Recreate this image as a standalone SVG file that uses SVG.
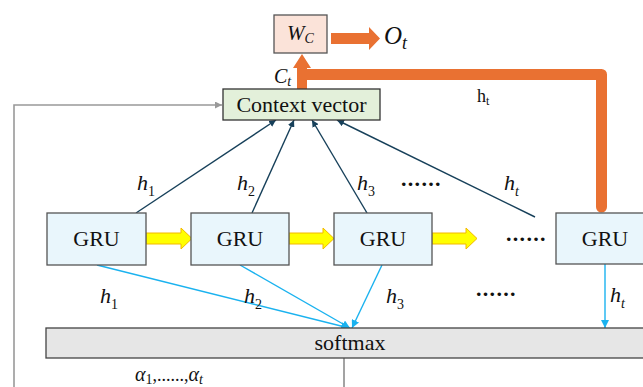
<svg xmlns="http://www.w3.org/2000/svg" width="643" height="387" viewBox="0 0 643 387" font-family="'Liberation Serif', 'Times New Roman', 'DejaVu Serif', serif">
<style>
text{font-family:"Liberation Serif","Times New Roman","DejaVu Serif",serif;fill:#111}
.n{font-size:22px}
.it{font-style:italic;font-size:22px}
.sub{font-size:14px;font-style:normal}
.subi{font-size:14px;font-style:italic}
.dots{font-size:22px;font-weight:bold;letter-spacing:1.3px}
.gru{fill:#e9f6fc;stroke:#555;stroke-width:1.3}
.dk{stroke:#17405a;stroke-width:1.4;fill:none;marker-end:url(#ad)}
.bl{stroke:#1ab2ef;stroke-width:1.4;fill:none;marker-end:url(#ab)}
.yl{fill:#ffff00;stroke:#f2b800;stroke-width:1}
.or{fill:#e97132}
</style>
<defs>
<marker id="ad" viewBox="0 0 10 10" refX="10" refY="5" markerWidth="7" markerHeight="7" markerUnits="userSpaceOnUse" orient="auto"><path d="M0,0 L10,5 L0,10 z" fill="#17405a"/></marker>
<marker id="ab" viewBox="0 0 10 10" refX="10" refY="5" markerWidth="8" markerHeight="8" markerUnits="userSpaceOnUse" orient="auto"><path d="M0,0 L10,5 L0,10 z" fill="#1ab2ef"/></marker>
<marker id="ag" viewBox="0 0 10 10" refX="10" refY="5" markerWidth="7" markerHeight="7" markerUnits="userSpaceOnUse" orient="auto"><path d="M0,0 L10,5 L0,10 z" fill="#999"/></marker>
</defs>

<g id="connectors">
<path d="M14,387 V105 H222" stroke="#999" stroke-width="1.6" fill="none" marker-end="url(#ag)"/>
<line x1="344" y1="358" x2="344" y2="387" stroke="#666" stroke-width="1.2"/>
<line class="dk" x1="136" y1="213" x2="276" y2="120"/>
<line class="dk" x1="252" y1="213" x2="294" y2="120"/>
<line class="dk" x1="367" y1="213" x2="312" y2="120"/>
<line class="dk" x1="535" y1="217" x2="337" y2="120"/>
<line class="bl" x1="97" y1="265" x2="349" y2="328"/>
<line class="bl" x1="240" y1="265" x2="350" y2="328"/>
<line class="bl" x1="382" y1="265" x2="352" y2="328"/>
<line class="bl" x1="605" y1="264" x2="605" y2="328"/>
<polygon class="yl" points="146,233 181,233 181,228 192,238.5 181,249 181,244 146,244"/>
<polygon class="yl" points="289,233 323,233 323,228 334,238.5 323,249 323,244 289,244"/>
<polygon class="yl" points="432,233 466,233 466,228 477,238.5 466,249 466,244 432,244"/>
<path d="M303,74.5 H601.5 V207" stroke="#e97132" stroke-width="11" fill="none" stroke-linejoin="round" stroke-linecap="round"/>
<polygon class="or" points="297,89 297,68 293,68 302,54 311,68 307,68 307,89"/>
<polygon class="or" points="331,33 369,33 369,27 380,38.5 369,50 369,44 331,44"/>
</g>

<g id="wc">
<rect x="274" y="15" width="53" height="38" fill="#fbe3d9" stroke="#555" stroke-width="1.3"/>
<text class="it" x="287" y="40" style="font-size:21px">W<tspan class="subi" dy="3">C</tspan></text>
</g>
<g id="ot"><text class="it" x="384" y="44" style="font-size:25px">O<tspan class="subi" dy="5" style="font-size:18px">t</tspan></text></g>
<g id="ct"><text class="it" x="274" y="83" style="font-size:20px">C<tspan class="subi" dy="3">t</tspan></text></g>
<g id="ht-top"><text x="477" y="102" style="font-size:18px">h<tspan dy="3" style="font-size:12px">t</tspan></text></g>

<g id="context">
<rect x="223" y="89" width="157" height="31" fill="#e3f0da" stroke="#333" stroke-width="1.3"/>
<text class="n" x="301.5" y="112" text-anchor="middle">Context vector</text>
</g>

<g id="gru1"><rect class="gru" x="47" y="213" width="99" height="52"/><text class="n" x="96.5" y="246" text-anchor="middle">GRU</text></g>
<g id="gru2"><rect class="gru" x="191" y="213" width="98" height="52"/><text class="n" x="240" y="246" text-anchor="middle">GRU</text></g>
<g id="gru3"><rect class="gru" x="334" y="213" width="98" height="52"/><text class="n" x="383" y="246" text-anchor="middle">GRU</text></g>
<g id="gru4"><rect class="gru" x="556" y="213" width="100" height="51"/><text class="n" x="605" y="246" text-anchor="middle">GRU</text></g>

<g id="softmax">
<rect x="46" y="328" width="610" height="30" fill="#e6e6e6" stroke="#444" stroke-width="1.3"/>
<text class="n" x="350" y="350" text-anchor="middle">softmax</text>
</g>

<g id="labels">
<text class="it" x="137" y="190">h<tspan class="sub" dy="6">1</tspan></text>
<text class="it" x="237" y="190">h<tspan class="sub" dy="6">2</tspan></text>
<text class="it" x="357" y="190">h<tspan class="sub" dy="6">3</tspan></text>
<text class="it" x="504" y="190">h<tspan class="subi" dy="6">t</tspan></text>
<text class="dots" x="401" y="186">......</text>
<text class="dots" x="506" y="241">......</text>
<text class="it" x="100" y="303">h<tspan class="sub" dy="6">1</tspan></text>
<text class="it" x="244" y="303">h<tspan class="sub" dy="6">2</tspan></text>
<text class="it" x="386" y="303">h<tspan class="sub" dy="6">3</tspan></text>
<text class="it" x="610" y="302">h<tspan class="subi" dy="6">t</tspan></text>
<text class="dots" x="476" y="296">......</text>
<text class="it" x="135" y="381" style="font-size:20px">α<tspan class="sub" dy="3">1</tspan><tspan dy="-3" style="font-style:normal;font-size:18px">,......,</tspan>α<tspan class="subi" dy="3">t</tspan></text>
</g>
</svg>
